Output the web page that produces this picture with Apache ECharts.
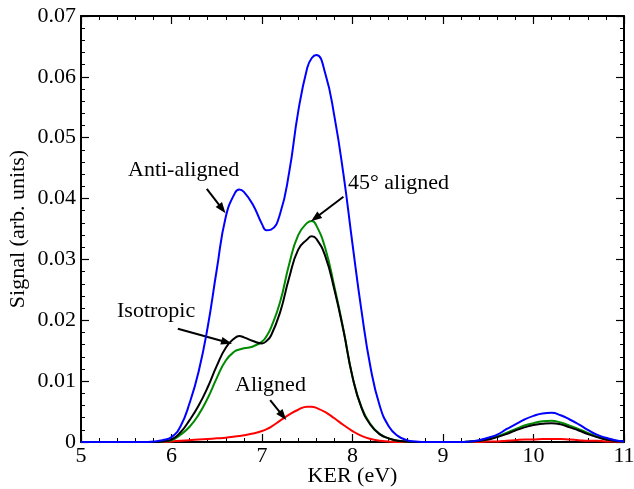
<!DOCTYPE html>
<html>
<head>
<meta charset="utf-8">
<script src="https://cdn.jsdelivr.net/npm/echarts@6/dist/echarts.min.js"></script>
<style>html,body{margin:0;padding:0;background:#fff}#c{width:634px;height:489px}</style>
</head>
<body>
<div id="c"></div>
<script>
// KER grid (eV)
var ker = [5.0,5.1,5.2,5.3,5.4,5.5,5.6,5.7,5.8,5.9,
  6.0,6.1,6.2,6.3,6.4,6.5,6.6,6.7,6.75,6.8,6.9,
  7.0,7.05,7.1,7.2,7.3,7.4,7.5,7.55,7.6,7.7,7.8,7.9,
  8.0,8.1,8.2,8.3,8.4,8.5,8.6,8.7,8.8,8.9,
  9.0,9.1,9.2,9.3,9.4,9.5,9.6,9.7,9.8,9.9,
  10.0,10.1,10.2,10.3,10.4,10.5,10.6,10.7,10.8,10.9,11.0];
var antiAligned = [0,0,0,0,0,0,0,0,0.0001,0.0003,
  0.0008,0.0026,0.0064,0.0116,0.0189,0.0283,0.0370,0.0409,0.0415,0.0411,0.0390,
  0.0358,0.0348,0.0349,0.0375,0.0443,0.0543,0.0615,0.0631,0.0636,0.0605,0.0535,0.0440,
  0.0325,0.0215,0.0122,0.0060,0.0026,0.0010,0.0003,0.0001,0,0,
  0,0,0,0.0001,0.0003,0.0007,0.0012,0.0021,0.0029,0.0037,
  0.0043,0.0047,0.0048,0.0044,0.0037,0.0029,0.0020,0.0012,0.0007,0.0003,0.0001];
var deg45 = [0,0,0,0,0,0,0,0,0,0.0001,
  0.0003,0.0012,0.0025,0.0045,0.0072,0.0105,0.0134,0.0149,0.0152,0.0154,0.0157,
  0.0165,0.0174,0.0188,0.0230,0.0292,0.0340,0.0360,0.0363,0.0356,0.0318,0.0255,0.0185,
  0.0107,0.0057,0.0029,0.0013,0.0006,0.0002,0.0001,0,0,0,
  0,0,0,0.0001,0.0002,0.0005,0.0009,0.0015,0.0021,0.0027,
  0.0031,0.0034,0.0035,0.0032,0.0027,0.0021,0.0015,0.0009,0.0005,0.0002,0.0001];
var isotropic = [0,0,0,0,0,0,0,0,0,0.0001,
  0.0004,0.0016,0.0036,0.0060,0.0090,0.0125,0.0155,0.0171,0.0174,0.0172,0.0166,
  0.0162,0.0166,0.0175,0.0213,0.0270,0.0316,0.0333,0.0338,0.0334,0.0305,0.0250,0.0183,
  0.0107,0.0056,0.0028,0.0013,0.0006,0.0002,0.0001,0,0,0,
  0,0,0,0.0001,0.0002,0.0004,0.0008,0.0013,0.0019,0.0024,
  0.0028,0.0030,0.0031,0.0029,0.0024,0.0019,0.0013,0.0008,0.0004,0.0002,0.0001];
var aligned = [0,0,0,0,0,0,0,0,0,0,
  0.0001,0.0002,0.0003,0.0004,0.0005,0.0006,0.0007,0.0009,0.0010,0.0011,0.0014,
  0.0018,0.0021,0.0025,0.0035,0.0045,0.0053,0.0058,0.0058,0.0056,0.0049,0.0039,0.0028,
  0.0018,0.0010,0.0005,0.0002,0.0001,0,0,0,0,0,
  0,0,0,0,0,0.0001,0.0001,0.0002,0.0003,0.0004,
  0.0004,0.0005,0.0005,0.0005,0.0004,0.0003,0.0002,0.0002,0.0001,0.0001,0];
var xTicks = [5,6,7,8,9,10,11];
var yTicks = [0,0.01,0.02,0.03,0.04,0.05,0.06,0.07];
var annotations = [
  {text:'Anti-aligned', from:[6.39,0.0416], to:[6.56,0.0383]},
  {text:'45° aligned', from:[7.90,0.0403], to:[7.59,0.0368]},
  {text:'Isotropic', from:[6.07,0.0186], to:[6.61,0.0164]},
  {text:'Aligned', from:[7.09,0.0069], to:[7.23,0.0043]}
];

function pairs(arr){ return ker.map(function(x,i){ return [x, arr[i]]; }); }
var FONT = 'Liberation Serif';
var chart = echarts.init(document.getElementById('c'), null, {renderer:'canvas'});

function xAx(pos, show){
  return {type:'value', position:pos, min:5, max:11, interval:1,
    axisLine:{show:true, onZero:false, lineStyle:{color:'#000', width:2}},
    axisTick:{show:true, inside:true, length:8, lineStyle:{color:'#000', width:1.2}},
    minorTick:{show:true, splitNumber:5, length:4, lineStyle:{color:'#000', width:1}},
    splitLine:{show:false},
    axisLabel:{show:show, color:'#000', fontFamily:FONT, fontSize:22, margin:3,
      formatter:function(v){ return xTicks.indexOf(v) >= 0 ? String(v) : ''; }},
    name: show ? 'KER (eV)' : '', nameLocation:'middle', nameGap:23, nameMoveOverlap:false,
    nameTextStyle:{color:'#000', fontFamily:FONT, fontSize:22}};
}
function yAx(pos, show){
  return {type:'value', position:pos, min:0, max:0.07, interval:0.01,
    axisLine:{show:true, onZero:false, lineStyle:{color:'#000', width:2}},
    axisTick:{show:true, inside:true, length:8, lineStyle:{color:'#000', width:1.2}},
    minorTick:{show:true, splitNumber:5, length:4, lineStyle:{color:'#000', width:1}},
    splitLine:{show:false},
    axisLabel:{show:show, color:'#000', fontFamily:FONT, fontSize:22, margin:5,
      formatter:function(v){ var r = Math.round(v*100)/100; return r === 0 ? '0' : r.toFixed(2); }},
    name: show ? 'Signal (arb. units)' : '', nameLocation:'middle', nameGap:52, nameMoveOverlap:false,
    nameTextStyle:{color:'#000', fontFamily:FONT, fontSize:22}};
}

function line(name, arr, color, z){
  return {name:name, type:'line', data:pairs(arr), smooth:0.5,
    showSymbol:false, symbol:'none', z:z, xAxisIndex:0, yAxisIndex:0,
    lineStyle:{color:color, width:2}, animation:false};
}

var arrowSeries = {
  type:'line', data:[], xAxisIndex:0, yAxisIndex:0, animation:false, silent:true,
  markLine:{silent:true, animation:false, symbol:['none','triangle'], symbolSize:[8,11],
    label:{show:false},
    lineStyle:{color:'#000', width:2, type:'solid'},
    data: annotations.map(function(a){ return [{coord:a.from}, {coord:a.to}]; })}
};

var labels = [
  {text:'Anti-aligned', x:128, y:172},
  {text:'45° aligned', x:348, y:185},
  {text:'Isotropic', x:117, y:313},
  {text:'Aligned', x:235, y:387}
];

chart.setOption({
  backgroundColor:'#fff',
  animation:false,
  grid:{left:81, top:16, right:10, bottom:47, containLabel:false, outerBoundsMode:'none'},
  xAxis:[xAx('bottom', true), xAx('top', false)],
  yAxis:[yAx('left', true), yAx('right', false)],
  series:[
    line('Aligned', aligned, '#ff0000', 2),
    line('45° aligned', deg45, '#008a00', 3),
    line('Isotropic', isotropic, '#000000', 4),
    line('Anti-aligned', antiAligned, '#0000ff', 5),
    arrowSeries
  ],
  graphic: labels.map(function(l){
    return {type:'text', left:l.x, top:l.y-13, z:10,
      style:{text:l.text, fill:'#000', font:'22px "Liberation Serif"'}};
  })
});
</script>
</body>
</html>
